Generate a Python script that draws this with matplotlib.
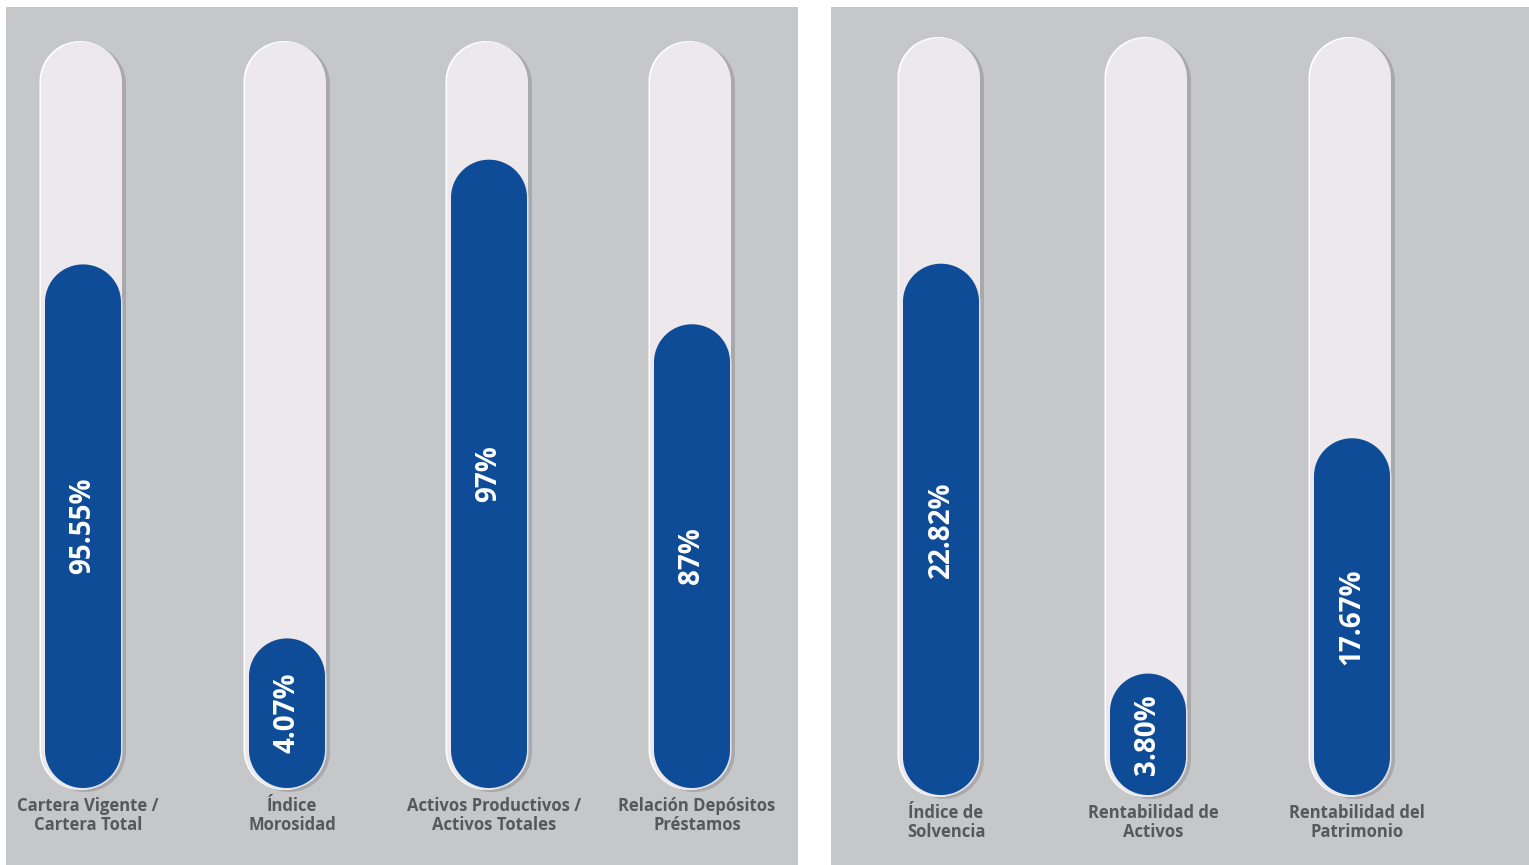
import matplotlib
matplotlib.use('Agg')
import numpy as np
import matplotlib.pyplot as plt
from matplotlib.patches import PathPatch, Rectangle
from matplotlib.path import Path

# ---- data ----
left_labels = ["Cartera Vigente /\nCartera Total", "Índice\nMorosidad",
               "Activos Productivos /\nActivos Totales", "Relación Depósitos\nPréstamos"]
left_values = ["95.55%", "4.07%", "97%", "87%"]
left_fill = [0.70, 0.20, 0.84, 0.62]   # visual fill level of each bar (fraction of track)

right_labels = ["Índice de\nSolvencia", "Rentabilidad de\nActivos", "Rentabilidad del\nPatrimonio"]
right_values = ["22.82%", "3.80%", "17.67%"]
right_fill = [0.70, 0.16, 0.47]

# ---- style ----
W, H = 1529, 865
PANEL = "#c6c7c9"
TRACK = "#ece8ec"
BLUE = "#0f4c97"
SHADOW = "#a9a9ad"
LABEL = "#58585c"
FONT = "Open Sans"

fig = plt.figure(figsize=(W / 100, H / 100), dpi=100)
ax = fig.add_axes([0, 0, 1, 1])
ax.set_xlim(0, W)
ax.set_ylim(H, 0)
ax.axis("off")
fig.patch.set_facecolor("white")


def pill(x, y, w, h, color, z):
    """Stadium shape: x,y = left/top in pixel-like data coords (y grows downward)."""
    r = w / 2
    cx = x + r
    t = np.linspace(0, np.pi, 60)
    # top cap (y small), from right to left
    top_x = cx + r * np.cos(t)
    top_y = y + r - r * np.sin(t)
    # bottom cap, from left to right
    bot_x = cx - r * np.cos(t)
    bot_y = y + h - r + r * np.sin(t)
    xs = np.concatenate([top_x, bot_x, [top_x[0]]])
    ys = np.concatenate([top_y, bot_y, [top_y[0]]])
    verts = np.column_stack([xs, ys])
    codes = [Path.MOVETO] + [Path.LINETO] * (len(xs) - 2) + [Path.CLOSEPOLY]
    ax.add_patch(PathPatch(Path(verts, codes), fc=color, ec="none", zorder=z))


def panel(x0, x1, centers, top, bottom, labels, values, fills, label_y):
    ax.add_patch(Rectangle((x0, 7), x1 - x0, H - 7, fc=PANEL, ec="none", zorder=0))
    for cx, lab, val, f in zip(centers, labels, values, fills):
        tw = 81
        tx = cx - 42
        # shadow and highlight
        pill(tx + 4, top + 2, tw, bottom - top, SHADOW, 1)
        pill(tx - 1.5, top - 1, tw, bottom - top + 1, "white", 2)
        pill(tx, top, tw, bottom - top, TRACK, 3)
        # blue fill
        bw = 76
        bx = cx - bw / 2
        fb = bottom - 2
        ft = fb - f * (bottom - top)
        pill(bx + 1.5, ft + 1, bw, fb - ft, "#e2e2e6", 4)
        pill(bx, ft, bw, fb - ft, BLUE, 5)
        ax.text(cx, (ft + fb) / 2, val, rotation=90, ha="center", va="center",
                color="white", fontsize=20, fontweight="bold", family=FONT, zorder=6)
        ax.text(cx + 5, label_y, lab, ha="center", va="top", color=LABEL,
                fontsize=12, fontweight="bold", family=FONT, linespacing=1.1, zorder=6)


panel(6, 798, [83, 287, 489, 692], 42, 790, left_labels, left_values, left_fill, 797)
panel(831, W, [941, 1148, 1352], 38, 797, right_labels, right_values, right_fill, 804)

fig.savefig("out.png", dpi=100, facecolor="white")
